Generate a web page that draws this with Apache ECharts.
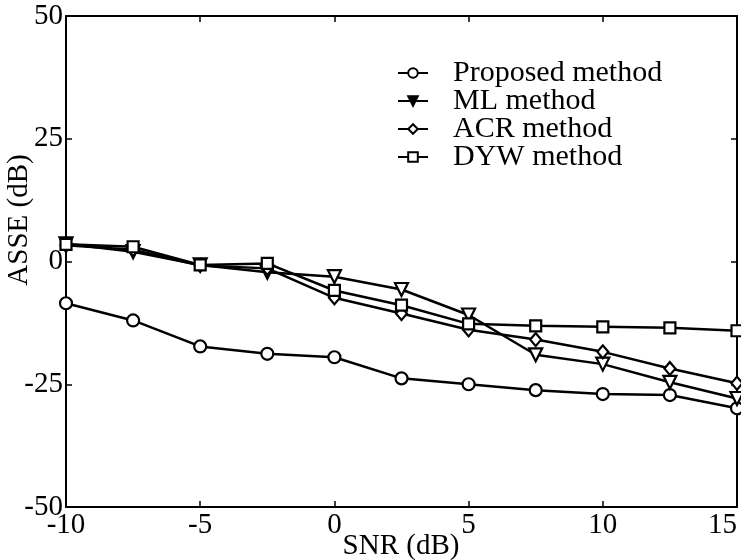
<!DOCTYPE html>
<html>
<head>
<meta charset="utf-8">
<script src="https://cdn.jsdelivr.net/npm/echarts@6/dist/echarts.min.js"></script>
<style>
  html, body { margin: 0; padding: 0; background: #fff; }
  #chart { width: 741px; height: 560px; }
</style>
</head>
<body>
<div id="chart"></div>
<script>
// SNR sweep (dB)
const snr = [-10, -7.5, -5, -2.5, 0, 2.5, 5, 7.5, 10, 12.5, 15];

// ASSE (dB) per estimator
const proposed = [-8.5, -12.0, -17.3, -18.8, -19.5, -23.8, -25.0, -26.2, -27.0, -27.2, -29.9];
const ml       = [3.6, 2.0, -0.7, -2.2, -3.1, -5.7, -10.9, -19.0, -20.9, -24.6, -27.9];
const acr      = [3.3, 2.4, -0.8, -1.4, -7.4, -10.6, -13.9, -15.9, -18.4, -21.8, -24.8];
const dyw      = [3.5, 3.0, -0.7, -0.4, -5.9, -8.9, -12.7, -13.1, -13.3, -13.5, -14.1];

const seriesNames = ['Proposed method', 'ML method', 'ACR method', 'DYW method'];
const xTicks = [-10, -5, 0, 5, 10, 15];
const yTicks = [-50, -25, 0, 25, 50];

const font = 'Liberation Serif, Times New Roman, serif';
const fontSize = 29;
const triDown = 'path://M0,0 L10,0 L5,9 Z';
const diamond = 'path://M5,0 L10,6 L5,12 L0,6 Z';

function pairs(ys) { return snr.map((x, i) => [x, ys[i]]); }

function makeSeries(name, ys, symbol, size) {
  return {
    name: name,
    type: 'line',
    data: pairs(ys),
    symbol: symbol,
    symbolSize: size,
    showAllSymbol: true,
    clip: false,
    lineStyle: { color: '#000', width: 2.5 },
    itemStyle: { color: '#fff', borderColor: '#000', borderWidth: 2.2 },
    emphasis: { disabled: true },
    z: 3
  };
}

const chart = echarts.init(document.getElementById('chart'), null, { renderer: 'canvas' });

const axisCommon = {
  axisLine: { show: true, onZero: false, lineStyle: { color: '#000', width: 2 } },
  axisTick: { show: true, inside: true, length: 6, lineStyle: { color: '#000', width: 1.5 } },
  splitLine: { show: false }
};

chart.setOption({
  backgroundColor: '#fff',
  animation: false,
  grid: { left: 66, right: 4, top: 16, bottom: 53, containLabel: false, outerBoundsMode: 'none' },
  legend: {
    data: [
      { name: seriesNames[0] },
      { name: seriesNames[1], itemStyle: { color: '#000' } },
      { name: seriesNames[2] },
      { name: seriesNames[3] }
    ],
    orient: 'vertical',
    left: 392,
    top: 53,
    itemWidth: 30,
    itemHeight: 12,
    itemGap: -2,
    textStyle: { fontFamily: font, fontSize: 30, color: '#000', padding: [0, 0, 0, 20] }
  },
  xAxis: [
    Object.assign({
      type: 'value', min: -10, max: 15, interval: 5, position: 'bottom',
      axisLabel: { show: true, fontFamily: font, fontSize: fontSize, color: '#000', margin: 4,
        alignMaxLabel: 'right',
        formatter: v => xTicks.includes(v) ? String(v) : '' }
    }, axisCommon),
    Object.assign({
      type: 'value', min: -10, max: 15, interval: 5, position: 'top',
      axisLabel: { show: false }
    }, axisCommon)
  ],
  yAxis: [
    Object.assign({
      type: 'value', min: -50, max: 50, interval: 25, position: 'left',
      axisLabel: { show: true, fontFamily: font, fontSize: fontSize, color: '#000', margin: 3,
        formatter: v => yTicks.includes(v) ? String(v) : '' }
    }, axisCommon),
    Object.assign({
      type: 'value', min: -50, max: 50, interval: 25, position: 'right',
      axisLabel: { show: false }
    }, axisCommon)
  ],
  graphic: [
    {
      type: 'text',
      x: 19,
      y: 220,
      rotation: Math.PI / 2,
      style: { text: 'ASSE (dB)', font: fontSize + 'px ' + font, fill: '#000',
        textAlign: 'center', textVerticalAlign: 'middle' }
    },
    {
      type: 'text',
      x: 401,
      y: 546,
      style: { text: 'SNR (dB)', font: fontSize + 'px ' + font, fill: '#000',
        textAlign: 'center', textVerticalAlign: 'middle' }
    }
  ],
  series: [
    makeSeries(seriesNames[0], proposed, 'circle', 12),
    makeSeries(seriesNames[1], ml, triDown, 13),
    makeSeries(seriesNames[2], acr, diamond, [11, 13]),
    makeSeries(seriesNames[3], dyw, 'rect', 11)
  ]
});
</script>
</body>
</html>
